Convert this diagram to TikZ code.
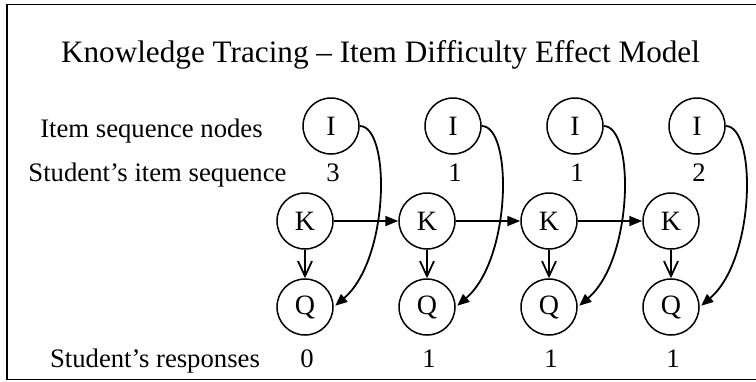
\documentclass[tikz,border=0pt]{standalone}
\usepackage{fontspec}
\setmainfont{Liberation Serif}
\usetikzlibrary{arrows.meta,positioning,calc}

\tikzset{
  var/.style={draw, circle, minimum size=56pt, inner sep=0pt, line width=1.5pt,
    font=\fontsize{28}{32}\selectfont},
  lbl/.style={anchor=base, inner sep=0pt, font=\fontsize{26.7}{31}\selectfont},
  kedge/.style={-{Triangle[length=13pt,width=10pt]}, line width=1.8pt},
  qedge/.style={-{Straight Barb[length=15pt,width=14pt]}, line width=1.8pt},
  iedge/.style={-{Triangle[length=12pt,width=10pt]}, line width=1.8pt, shorten >=2pt}
}

\begin{document}
\begin{tikzpicture}[x=1pt, y=-1pt]
\useasboundingbox (0,0) rectangle (756,381);
% frame, open on the right
\draw[line width=1.6pt] (756,4.5) -- (7,4.5) -- (7,379.5) -- (756,379.5);

\node[lbl, font=\fontsize{31.2}{37}\selectfont] (title) at (380.5,62)
  {Knowledge Tracing – Item Difficulty Effect Model};

% row labels
\node[lbl] (inodes) at (151.5,137) {Item sequence nodes};
\node[lbl] (iseq) at (157.5,181) {Student’s item sequence};
\node[lbl] (resp) at (155,367) {Student’s responses};

% one time slice per column
\foreach \n/\x/\seq/\ans in {1/331/3/0, 2/453/1/1, 3/575/1/1, 4/697/2/1} {
  \node[var] (i\n) at (\x,126) {I};
  \node[lbl] (s\n) at (\x+2,181) {\seq};
  \node[var] (k\n) at (\x-26,221) {K};
  \node[var] (q\n) at (\x-26,307) {Q};
  \node[lbl] (r\n) at (\x-24,367) {\ans};
  \draw[qedge] (k\n) -- (q\n);
  \draw[iedge] (i\n.east) .. controls +(31,0) and +(56,-48) .. (q\n.east);
}

% knowledge transitions
\foreach \a/\b in {1/2,2/3,3/4}
  \draw[kedge] (k\a) -- (k\b);
\end{tikzpicture}
\end{document}
